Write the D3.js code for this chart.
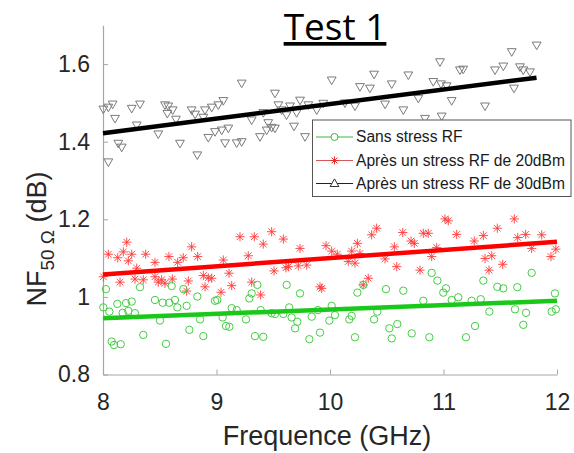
<!DOCTYPE html>
<html><head><meta charset="utf-8">
<script src="https://cdn.jsdelivr.net/npm/d3@7"></script>
<style>body{margin:0;background:#fff}svg{display:block}</style>
</head><body>
<svg id="chart" width="574" height="453"></svg>
<script>
const xTicks = [8, 9, 10, 11, 12];
const yTicks = [0.8, 1.0, 1.2, 1.4, 1.6];
const yTickLabels = ["0.8", "1", "1.2", "1.4", "1.6"];
const seriesNames = ["Sans stress RF", "Après un stress RF de 20dBm", "Après un stress RF de 30dBm"];

const freqSans = [8.003,8.026,8.056,8.076,8.097,8.126,8.156,8.173,8.203,8.223,8.253,8.282,8.326,8.355,8.458,8.502,8.526,8.555,8.584,8.605,8.634,8.655,8.708,8.737,8.761,8.831,8.855,8.884,8.987,9.007,9.054,9.084,9.113,9.134,9.178,9.260,9.289,9.310,9.339,9.360,9.389,9.412,9.486,9.515,9.589,9.618,9.641,9.662,9.692,9.712,9.736,9.818,9.839,9.894,9.912,9.994,10.015,10.044,10.170,10.191,10.220,10.241,10.293,10.388,10.417,10.493,10.523,10.544,10.593,10.646,10.720,10.822,10.875,10.896,10.946,10.998,11.022,11.072,11.130,11.198,11.248,11.278,11.328,11.351,11.404,11.474,11.527,11.630,11.650,11.703,11.727,11.777,11.953,11.982,11.990];
const nfSans = [0.973,1.020,0.962,0.885,0.876,0.982,0.878,0.959,0.984,0.964,0.988,0.958,1.025,0.902,0.992,0.939,0.985,0.879,0.985,1.028,0.992,0.973,1.020,0.977,0.915,1.001,0.942,0.899,0.990,0.992,0.947,0.925,0.923,0.971,0.966,0.942,0.996,1.009,0.899,1.031,0.966,0.897,0.958,0.956,0.956,1.031,0.973,0.947,0.919,0.936,1.009,0.891,0.949,0.966,0.908,0.939,0.977,0.953,0.942,0.951,0.896,1.011,1.031,0.942,0.962,1.020,0.919,0.893,0.930,1.016,0.906,0.990,0.896,1.062,1.042,1.011,1.022,0.992,0.999,0.896,0.990,0.925,0.994,1.042,0.962,1.026,1.022,0.968,1.025,0.928,0.959,1.062,0.962,1.009,0.968];

const freqStress20 = [8.003,8.047,8.130,8.179,8.209,8.223,8.253,8.297,8.282,8.376,8.458,8.355,8.458,8.487,8.517,8.546,8.581,8.611,8.658,8.707,8.737,8.752,8.781,8.834,8.884,8.899,8.928,8.958,9.040,9.060,9.110,9.134,9.207,9.280,9.310,9.333,8.150,9.389,9.412,9.486,9.507,9.589,9.612,9.633,9.721,9.736,9.795,9.912,9.927,9.965,10.015,10.064,10.161,10.191,10.220,10.241,10.264,10.293,10.337,10.367,10.411,10.485,10.567,10.588,10.641,10.714,10.743,10.793,10.822,10.866,10.896,10.940,11.013,11.042,11.116,11.271,11.351,11.366,11.401,11.425,11.474,11.522,11.624,11.654,11.724,11.777,11.865,11.947,11.990];
const nfStress20 = [1.052,1.110,1.101,1.116,1.141,1.093,1.110,1.074,1.046,1.110,1.089,1.044,1.052,1.038,1.044,1.035,1.104,1.046,1.089,1.101,1.015,1.041,1.129,1.104,1.055,1.026,1.049,1.048,1.012,1.095,1.061,1.029,1.155,1.106,1.038,1.155,1.038,1.005,1.136,1.168,1.067,1.149,1.075,1.078,1.080,1.125,1.082,1.026,1.022,1.132,1.118,1.110,1.091,1.118,1.087,1.138,1.112,1.031,1.048,1.160,1.177,1.098,1.129,1.078,1.166,1.144,1.138,1.069,1.164,1.164,1.104,1.127,1.201,1.196,1.161,1.144,1.158,1.099,1.069,1.106,1.177,1.084,1.201,1.153,1.161,1.125,1.160,1.104,1.123];

const freqStress30 = [8.003,8.047,8.085,8.106,8.135,8.165,8.047,8.253,8.297,8.326,8.487,8.546,8.575,8.567,8.614,8.643,8.678,8.781,8.811,8.831,8.884,8.899,8.928,8.958,8.987,9.016,9.046,9.060,9.075,9.104,9.178,9.222,9.222,9.310,9.383,9.412,9.442,9.456,9.486,9.515,9.515,9.545,9.574,9.617,9.648,9.683,9.706,9.736,9.780,9.809,9.883,9.941,10.015,10.132,10.220,10.264,10.352,10.388,10.485,10.544,10.646,10.690,10.778,10.837,10.910,10.969,10.978,10.984,11.028,11.072,11.145,11.174,11.366,11.454,11.527,11.601,11.621,11.674,11.703,11.762,11.821];
const nfStress30 = [1.484,1.489,1.497,1.460,1.396,1.386,1.348,1.486,1.443,1.497,1.420,1.495,1.492,1.473,1.482,1.458,1.396,1.482,1.471,1.366,1.463,1.482,1.411,1.489,1.426,1.495,1.430,1.506,1.397,1.435,1.397,1.400,1.551,1.456,1.413,1.475,1.430,1.449,1.437,1.435,1.525,1.495,1.482,1.469,1.492,1.440,1.475,1.507,1.413,1.495,1.482,1.499,1.559,1.500,1.492,1.542,1.538,1.574,1.497,1.549,1.482,1.572,1.512,1.460,1.555,1.606,1.549,1.466,1.544,1.506,1.585,1.587,1.492,1.585,1.595,1.632,1.538,1.593,1.585,1.580,1.649];

const fitFreq = [8, 12];
const fitSans = [0.945, 0.990];
const fitStress20 = [1.058, 1.142];
const fitFreq30 = [8, 11.82];
const fitStress30 = [1.422, 1.565];

const svg = d3.select("#chart");
svg.append("rect").attr("width", 574).attr("height", 453).attr("fill", "#fff");

const x = d3.scaleLinear().domain([8, 12]).range([103, 557]);
const y = d3.scaleLinear().domain([0.8, 1.7]).range([374.5, 25.3]);

// axes
const axisColor = "#a6a6a6";
const gx = svg.append("g").attr("transform", "translate(0,374.5)")
  .call(d3.axisBottom(x).tickValues(xTicks).tickFormat(d3.format("d")).tickSizeInner(-5).tickSizeOuter(0).tickPadding(19));
const gy = svg.append("g").attr("transform", "translate(103,0)")
  .call(d3.axisLeft(y).tickValues(yTicks).tickFormat((d, i) => yTickLabels[i]).tickSizeInner(-5).tickSizeOuter(0).tickPadding(13));
[gx, gy].forEach(g => {
  g.select(".domain").attr("stroke", axisColor).attr("stroke-width", 1.2);
  g.selectAll(".tick line").attr("stroke", axisColor).attr("stroke-width", 1);
  g.selectAll(".tick text").attr("fill", "#262626").attr("font-family", "'Liberation Sans', Arial, sans-serif").attr("font-size", 23);
});

// markers
const triDown = "M-4.4,-3 L4.4,-3 L0,4.6 Z";
const triUp = "M-4.4,3 L4.4,3 L0,-4.6 Z";
function starPath(s) {
  const d = s * 0.72;
  return `M${-s},0L${s},0M0,${-s}L0,${s}M${-d},${-d}L${d},${d}M${-d},${d}L${d},${-d}`;
}

const green = "#19c819", red = "#ff0000";

// Black triangles (30 dBm)
svg.append("g").selectAll("path").data(d3.range(freqStress30.length)).join("path")
  .attr("d", triDown)
  .attr("transform", i => `translate(${x(freqStress30[i])},${y(nfStress30[i])})`)
  .attr("fill", "none").attr("stroke", "#7a7a7a").attr("stroke-width", 1);

// Red stars (20 dBm)
svg.append("g").selectAll("path").data(d3.range(freqStress20.length)).join("path")
  .attr("d", starPath(4.6))
  .attr("transform", i => `translate(${x(freqStress20[i])},${y(nfStress20[i])})`)
  .attr("fill", "none").attr("stroke", "#ff3b3b").attr("stroke-width", 1).attr("stroke-opacity", 0.9);

// Green circles
svg.append("g").selectAll("circle").data(d3.range(freqSans.length)).join("circle")
  .attr("cx", i => x(freqSans[i])).attr("cy", i => y(nfSans[i])).attr("r", 3.7)
  .attr("fill", "none").attr("stroke", "#45cc45").attr("stroke-width", 1);

// Fit lines
const line = d3.line().x(d => x(d[0])).y(d => y(d[1]));
svg.append("path").attr("d", line(d3.zip(fitFreq, fitSans))).attr("stroke", green).attr("stroke-width", 4.5).attr("fill", "none");
svg.append("path").attr("d", line(d3.zip(fitFreq, fitStress20))).attr("stroke", red).attr("stroke-width", 4.5).attr("fill", "none");
svg.append("path").attr("d", line(d3.zip(fitFreq30, fitStress30))).attr("stroke", "#000").attr("stroke-width", 4.5).attr("fill", "none");

// Legend
const lg = svg.append("g");
lg.append("rect").attr("x", 312.5).attr("y", 120).attr("width", 258.5).attr("height", 76.5)
  .attr("fill", "#fff").attr("stroke", "#555").attr("stroke-width", 1);
const rowY = [137, 160.5, 183.5];
const legColors = ["#3bb83b", "#d9565a", "#222"];
seriesNames.forEach((name, i) => {
  const g = lg.append("g").attr("transform", `translate(0,${rowY[i]})`);
  g.append("line").attr("x1", 316).attr("x2", 353).attr("y1", 0).attr("y2", 0).attr("stroke", legColors[i]).attr("stroke-width", 1);
  if (i === 0) g.append("circle").attr("cx", 334.5).attr("cy", 0).attr("r", 3.5).attr("fill", "#fff").attr("stroke", "#3bb83b");
  if (i === 1) g.append("path").attr("d", starPath(4)).attr("transform", "translate(334.5,0)").attr("stroke", "#e03030").attr("fill", "none");
  if (i === 2) g.append("path").attr("d", triUp).attr("transform", "translate(334.5,0)").attr("stroke", "#333").attr("fill", "#fff");
  g.append("text").attr("x", 356).attr("y", 0).attr("dy", "0.35em").text(name)
    .attr("font-family", "'Liberation Sans', Arial, sans-serif").attr("font-size", 15.6).attr("fill", "#1a1a1a");
});

// Title
svg.append("text").attr("x", 335).attr("y", 40).attr("text-anchor", "middle")
  .attr("font-family", "'Open Sans', sans-serif").attr("font-size", 37).attr("fill", "#000")
  .attr("text-decoration", "underline").text("Test 1");

// X label
svg.append("text").attr("x", 327).attr("y", 445).attr("text-anchor", "middle")
  .attr("font-family", "'Liberation Sans', Arial, sans-serif").attr("font-size", 27).attr("fill", "#262626")
  .text("Frequence (GHz)");

// Y label
const yl = svg.append("text").attr("transform", "translate(46,239) rotate(-90)").attr("text-anchor", "middle")
  .attr("font-family", "'Liberation Sans', Arial, sans-serif").attr("font-size", 27).attr("fill", "#262626");
yl.append("tspan").text("NF");
yl.append("tspan").attr("dy", 8).attr("font-size", 19).text("50 Ω");
yl.append("tspan").attr("dy", -8).text(" (dB)");
</script>
</body></html>
